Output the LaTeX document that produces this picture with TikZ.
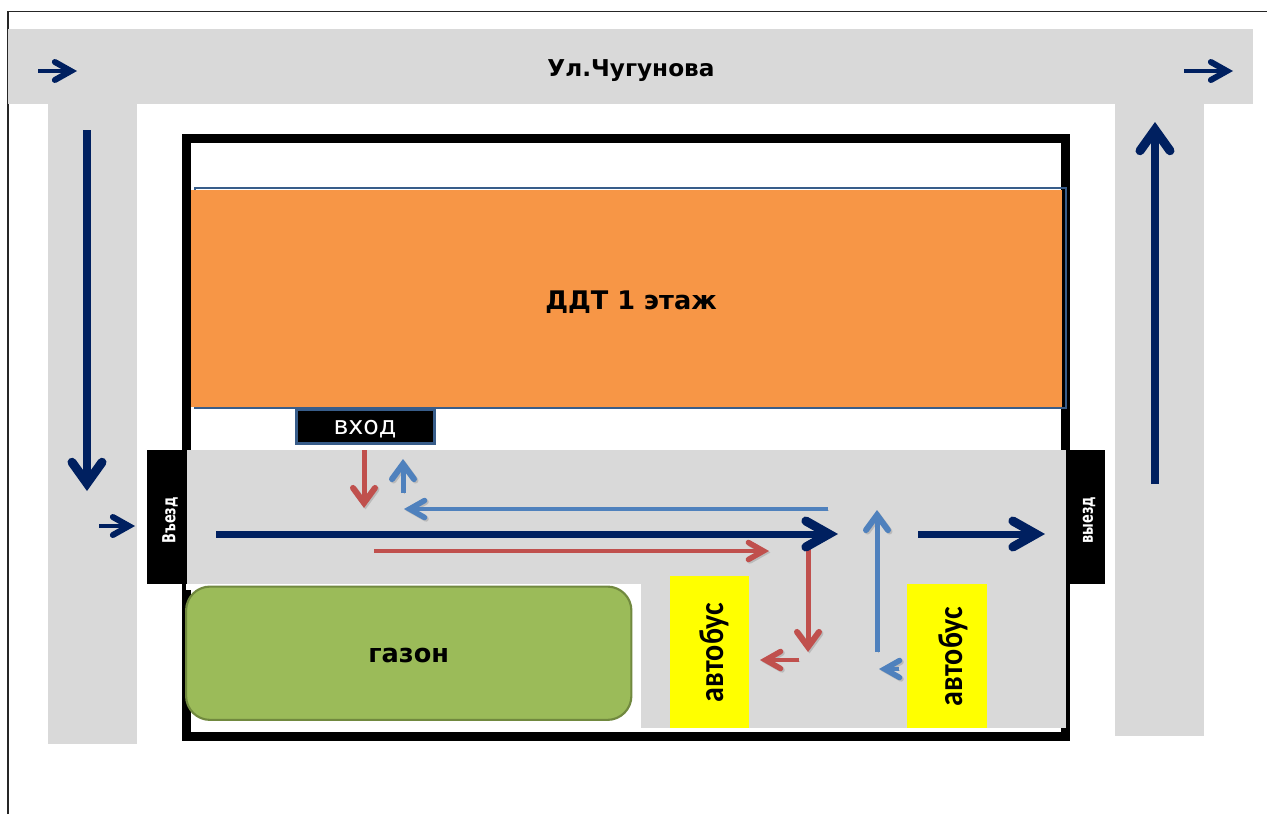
\documentclass[tikz,border=0pt]{standalone}
\usepackage{fontspec}
\setmainfont{DejaVu Sans}
\newfontfamily\busfont{Carlito}
\usetikzlibrary{arrows.meta}
\definecolor{roadgrey}{HTML}{D9D9D9}
\definecolor{navyar}{HTML}{002060}
\definecolor{redar}{HTML}{C0504D}
\definecolor{bluear}{HTML}{4F81BD}
\definecolor{orangeb}{HTML}{F79646}
\definecolor{edgeb}{HTML}{385D8A}
\definecolor{lawn}{HTML}{9BBB59}
\definecolor{lawnedge}{HTML}{71893F}
\definecolor{busyellow}{HTML}{FFFF00}
\tikzset{
  x=0.75pt,y=-0.75pt,
  road/.style={fill=roadgrey,draw=none},
  blackbox/.style={fill=black,draw=none,text=white,inner sep=0pt,font=\bfseries\fontsize{13.5}{15}\selectfont},
  buslot/.style={fill=busyellow,draw=none},
  bustext/.style={font=\busfont\bfseries\fontsize{22.5}{26}\selectfont,rotate=90,inner sep=0pt},
  boldlabel/.style={font=\bfseries\fontsize{17.4}{20}\selectfont,inner sep=0pt},
  biglabel/.style={font=\bfseries\fontsize{19.2}{22}\selectfont,inner sep=0pt},
  shadowed/.style={preaction={draw=black,opacity=.14,transform canvas={shift={(1.1pt,-1.1pt)}}}},
  ar/.style n args={5}{draw=#1,line width=#2*0.75pt,
     -{Straight Barb[length=#3*0.75pt,width=#4*1.5pt,line width=#5*0.75pt,line cap=round,line join=miter]}},
  navyhuge/.style={ar={navyar}{8}{21}{15}{9}},
  navybig/.style={ar={navyar}{7}{23}{13}{9}},
  navysmall/.style={ar={navyar}{4.5}{16}{9}{6}},
  redbig/.style={ar={redar}{5}{15}{11}{6}},
  bluebig/.style={ar={bluear}{5}{15}{11}{6}},
  redsmall/.style={ar={redar}{4}{15}{8.5}{5.5}},
  bluesmall/.style={ar={bluear}{4}{15}{8.5}{5.5}},
  redbigS/.style={redbig,shadowed},
  bluebigS/.style={bluebig,shadowed},
  redsmallS/.style={redsmall,shadowed},
  bluesmallS/.style={bluesmall,shadowed},
}
\begin{document}
\begin{tikzpicture}
\useasboundingbox (0,0) rectangle (1267,814);
% sheet edge
\coordinate (sheetA) at (8,814);
\coordinate (sheetB) at (8,11.5);
\coordinate (sheetC) at (1267,11.5);
\draw[line width=0.9pt,draw=black!85] (sheetA) -- (sheetB) -- (sheetC);
% roads
\fill[road] (8,29) rectangle (1253,104);
\fill[road] (48,104) rectangle (137,744);
\fill[road] (1115,104) rectangle (1204,736);
\node[boldlabel] (street) at (631,71) {Ул.Чугунова};
% plot
\draw[line width=6.75pt,draw=black,miter limit=10] (186.5,138.5) rectangle (1065.5,736.5);
% yard
\fill[white] (186,584) rectangle (641,590);
\fill[white] (191,590) rectangle (641,732);
\fill[white] (191,442) rectangle (1061,450);
\fill[white] (641,728) rectangle (1061,732);
\fill[road] (187,450) rectangle (1066,584);
\fill[road] (641,584) rectangle (1066,728);
% building
\draw[draw=edgeb,line width=1.6pt] (195,188) rectangle (1066,408);
\fill[orangeb] (191,190) rectangle (1062,407);
\node[biglabel] (ddt) at (631,302) {ДДТ 1 этаж};
% entrance
\node[fill=black,draw=edgeb,line width=2.25pt,minimum width=103.5pt,minimum height=25.5pt,inner sep=0pt,text=white,font=\fontsize{19}{21}\selectfont,anchor=north west] (vhod) at (294.5,408) {\raisebox{-6pt}[0pt][0pt]{вход}};
% gates
\node[blackbox,minimum width=29.25pt,minimum height=100.5pt,anchor=north west] (vin) at (147,450) {\hspace{5pt}\rotatebox{90}{\scalebox{0.72}[1]{Въезд}\hspace{4.5pt}}};
\node[blackbox,minimum width=29.25pt,minimum height=100.5pt,anchor=north west] (vout) at (1066,450) {\hspace{5pt}\rotatebox{90}{\scalebox{0.72}[1]{выезд}\hspace{4.5pt}}};
% lawn
\node[fill=lawn,draw=lawnedge,line width=1.6pt,rounded corners=18pt,minimum width=334pt,minimum height=100pt,anchor=north west,inner sep=0pt,biglabel] (gazon) at (185,585.5) {\raisebox{-7pt}[0pt][0pt]{газон}};
% buses
\fill[buslot] (670,576) rectangle (749,728);
\fill[buslot] (907,584) rectangle (987,728);
\node[bustext] (bus1) at (714,652.5) {\scalebox{1}[1.15]{автобус}};
\node[bustext] (bus2) at (953,656.5) {\scalebox{1}[1.15]{автобус}};
% road arrows
\coordinate (a1) at (38,71); \coordinate (a1e) at (77,71);
\coordinate (a2) at (1184,71); \coordinate (a2e) at (1233,71);
\coordinate (a3) at (87,130); \coordinate (a3e) at (87,491);
\coordinate (a4) at (1155,484); \coordinate (a4e) at (1155,122);
\coordinate (a5) at (99,526); \coordinate (a5e) at (135,526);
\coordinate (a6) at (216,534); \coordinate (a6e) at (838,534);
\coordinate (a7) at (918,534); \coordinate (a7e) at (1045,534);
\draw[navysmall] (a1) -- (a1e);
\draw[navysmall] (a2) -- (a2e);
\draw[navyhuge] (a3) -- (a3e);
\draw[navyhuge] (a4) -- (a4e);
\draw[navysmall] (a5) -- (a5e);
% yard arrows
\coordinate (b1) at (364,450); \coordinate (b1e) at (364,508);
\coordinate (b2) at (403,493); \coordinate (b2e) at (403,459);
\coordinate (b3) at (828,509); \coordinate (b3e) at (404,509);
\coordinate (b4) at (374,551); \coordinate (b4e) at (769,551);
\coordinate (b5) at (808,548); \coordinate (b5e) at (808,652);
\coordinate (b6) at (799,660); \coordinate (b6e) at (760,660);
\coordinate (b7) at (877,652); \coordinate (b7e) at (877,510);
\coordinate (b8) at (899,669); \coordinate (b8e) at (879,669);
\draw[redbigS] (b1) -- (b1e);
\draw[bluebigS] (b2) -- (b2e);
\draw[bluesmallS] (b3) -- (b3e);
\draw[redsmallS] (b4) -- (b4e);
\draw[redbigS] (b5) -- (b5e);
\draw[redsmallS] (b6) -- (b6e);
\draw[bluebigS] (b7) -- (b7e);
\draw[bluesmallS] (b8) -- (b8e);
\draw[navybig] (a6) -- (a6e);
\draw[navybig] (a7) -- (a7e);
\end{tikzpicture}
\end{document}
